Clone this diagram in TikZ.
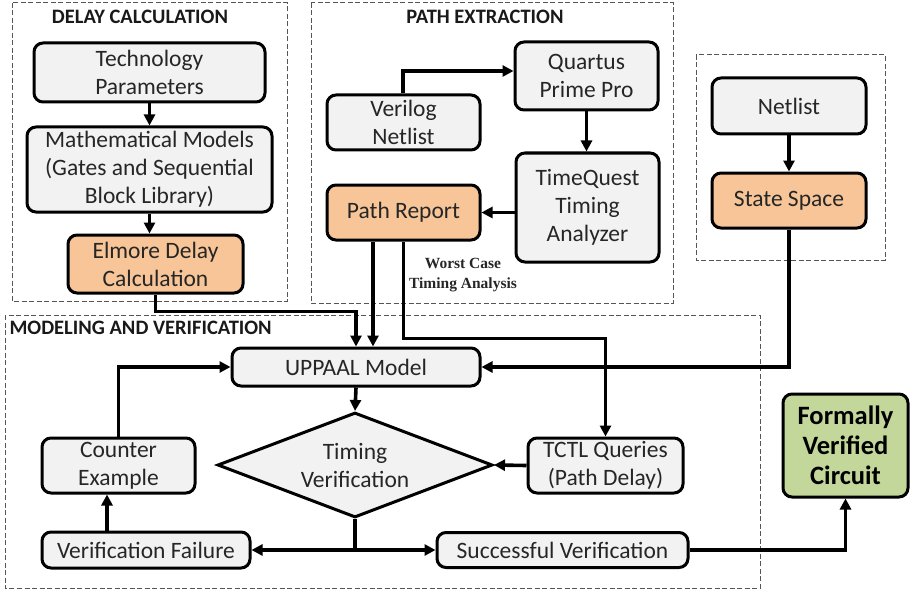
\documentclass[tikz,border=0pt]{standalone}
\usepackage{fontspec}
\setmainfont{Carlito}
\newfontfamily\labelserif{Liberation Serif}
\usetikzlibrary{arrows.meta,shapes.geometric}
\definecolor{boxgray}{HTML}{F2F2F2}
\definecolor{boxorange}{HTML}{F7C597}
\definecolor{boxgreen}{HTML}{C4D79B}
\definecolor{dashgray}{HTML}{555555}
\tikzset{
  box/.style={draw=black, line width=3pt, rounded corners=9pt, fill=boxgray,
    align=center, inner sep=1pt, font=\fontsize{23.5}{28}\selectfont, text=black!85},
  hot/.style={box, fill=boxorange},
  goal/.style={box, fill=boxgreen, font=\fontsize{26.5}{30}\selectfont\bfseries, text=black},
  arr/.style={line width=3.6pt, -{Triangle[length=11pt,width=11pt]}},
  wire/.style={line width=3.6pt},
  group/.style={draw=dashgray, line width=1pt, dash pattern=on 5pt off 2.5pt},
  grouptitle/.style={font=\fontsize{20.5}{22}\selectfont\bfseries, text=black!90}
}
\begin{document}
\begin{tikzpicture}[x=1pt,y=-1pt]
\useasboundingbox (0,0) rectangle (910,591);

% group frames
\draw[group] (12,3) rectangle (287,301);
\draw[group] (311,3) rectangle (673,303);
\draw[group] (696,55) rectangle (885,260);
\draw[group] (5,315) rectangle (760,588);
\node[grouptitle] (t1) at (140,17) {DELAY CALCULATION};
\node[grouptitle] (t2) at (485,17) {PATH EXTRACTION};
\node[grouptitle, anchor=west] (t3) at (6,328) {MODELING AND VERIFICATION};

% delay calculation
\node[box, minimum width=231, minimum height=59] (tech) at (149.5,72.5) {Technology\\Parameters};
\node[box, minimum width=245, minimum height=85] (math) at (149.5,169.5) {Mathematical Models\\(Gates and Sequential\\Block Library)};
\node[hot, minimum width=175, minimum height=58] (elmore) at (155.5,264) {Elmore Delay\\Calculation};

% path extraction
\node[box, minimum width=143, minimum height=68] (quartus) at (586.5,76) {Quartus\\Prime Pro};
\node[box, minimum width=153, minimum height=55] (verilog) at (403.5,122.5) {Verilog\\Netlist};
\node[box, minimum width=143, minimum height=109] (tq) at (587.5,207.5) {TimeQuest\\Timing\\Analyzer};
\node[hot, minimum width=153, minimum height=55] (report) at (403.5,212.5) {Path Report};
\node[font=\labelserif\fontsize{15.5}{20}\selectfont\bfseries, align=center, text=black!85] (wc) at (463,275) {Worst Case\\Timing Analysis};

% netlist to state space
\node[box, minimum width=154, minimum height=56] (netlist) at (789,106) {Netlist};
\node[hot, minimum width=154, minimum height=55] (state) at (789,200.5) {State Space};

% modeling and verification
\node[box, minimum width=248, minimum height=38] (uppaal) at (356,367) {UPPAAL Model};
\node[shape=diamond, draw=black, line width=3pt, fill=boxgray, aspect=2.6, inner sep=0pt,
  minimum width=275, minimum height=105, align=center,
  font=\fontsize{23.5}{28}\selectfont, text=black!85] (diam) at (355,465) {Timing\\Verification};
\node[box, minimum width=155, minimum height=55] (tctl) at (605.5,465.5) {TCTL Queries\\(Path Delay)};
\node[box, minimum width=153, minimum height=55] (counter) at (118.5,465.5) {Counter\\Example};
\node[box, minimum width=208, minimum height=36] (fail) at (146,550) {Verification Failure};
\node[box, minimum width=251, minimum height=35] (success) at (562.5,550) {Successful Verification};
\node[goal, minimum width=125, minimum height=103] (formal) at (845.5,445.5) {Formally\\Verified\\Circuit};

% connectors inside the groups
\draw[arr] (tech.south) -- (math.north);
\draw[arr] (math.south) -- (math.south |- elmore.north);
\draw[arr] ([xshift=-0.5pt]verilog.north) |- ([yshift=5pt]quartus.west);
\draw[arr] (quartus.south) -- (quartus.south |- tq.north);
\draw[arr] (tq.west |- report.east) -- (report.east);
\draw[arr] (netlist.south) -- (state.north);

% feeds into the model
\draw[arr] (elmore.south) -- ++(0,17) -| (uppaal.north);
\draw[arr] ([xshift=-30.5pt]report.south) -- ([xshift=-30.5pt]report.south |- uppaal.north);
\draw[arr] (report.south) -- ++(0,97) -| (tctl.north);
\draw[arr] (state.south) |- (uppaal.east);

% verification loop
\draw[arr] (uppaal.south) -- (diam.north);
\draw[arr] (tctl.west) -- (diam.east);
\draw[wire] (diam.south) -- (diam.south |- fail.east) coordinate (split);
\draw[arr] (split) -- (fail.east);
\draw[arr] (split) -- (success.west);
\draw[arr] ([xshift=-39pt]fail.north) -- ([xshift=-39pt]fail.north |- counter.south);
\draw[arr] (counter.north) |- (uppaal.west);
\draw[arr] (success.east) -| (formal.south);
\end{tikzpicture}
\end{document}
